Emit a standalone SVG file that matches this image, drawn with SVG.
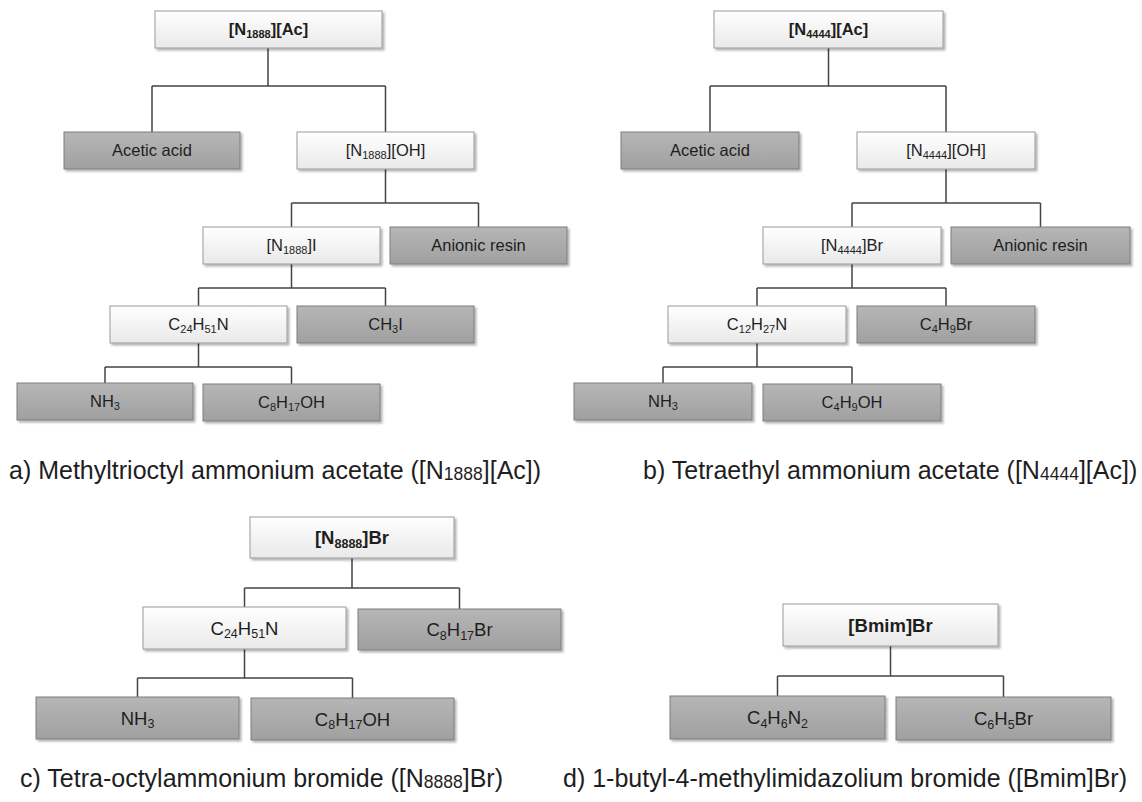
<svg xmlns="http://www.w3.org/2000/svg" width="1142" height="802" viewBox="0 0 1142 802">
<defs>
<linearGradient id="gl" x1="0" y1="0" x2="0" y2="1"><stop offset="0" stop-color="#ffffff"/><stop offset="1" stop-color="#e9e9e9"/></linearGradient>
<linearGradient id="gd" x1="0" y1="0" x2="0" y2="1"><stop offset="0" stop-color="#b6b6b6"/><stop offset="1" stop-color="#a0a0a0"/></linearGradient>
<filter id="sh" x="-10%" y="-20%" width="130%" height="160%"><feDropShadow dx="2" dy="2" stdDeviation="1.2" flood-color="#000" flood-opacity="0.3"/></filter>
</defs>
<style>
.l{fill:url(#gl);stroke:#9a9a9a;stroke-width:1;filter:url(#sh)}
.d{fill:url(#gd);stroke:#7c7c7c;stroke-width:1;filter:url(#sh)}
text{font-family:"Liberation Sans",Arial,sans-serif;fill:#1e1e1e;text-anchor:middle}
.t{font-size:16.5px}
.t2{font-size:18.5px}
.b{font-weight:bold}
.s{font-size:11px}
.s2{font-size:12.5px}
.cap{font-size:25px;text-anchor:start}
.cs{font-size:17.5px}
#conn path{fill:none;stroke:#444;stroke-width:1.5}
</style>
<rect width="1142" height="802" fill="#fff"/>
<g id="conn">
<path d="M268,48V86M152,86H385.5M152,86V132M385.5,86V132"/>
<path d="M385.5,169V203M291.5,203H478.5M291.5,203V227M478.5,203V227"/>
<path d="M291.5,264V288M198.5,288H385.5M198.5,288V306M385.5,288V306"/>
<path d="M198.5,343V367M105,367H291.5M105,367V383M291.5,367V384"/>
<path d="M828.5,48V86M710,86H946M710,86V132M946,86V132"/>
<path d="M946,169V203M852,203H1040.5M852,203V227M1040.5,203V227"/>
<path d="M852,264V288M757,288H946M757,288V306M946,288V306"/>
<path d="M757,343V367M663,367H852M663,367V383M852,367V384"/>
<path d="M352,558V588M244.5,588H459.5M244.5,588V607M459.5,588V609"/>
<path d="M244.5,649V678M137.5,678H352.5M137.5,678V697M352.5,678V698"/>
<path d="M890.5,646V676M777.5,676H1003.5M777.5,676V696M1003.5,676V697"/>
</g>
<g id="a1"><rect class="l" x="155" y="11" width="227" height="37"/><text class="t b" x="268.5" y="35">[N<tspan class="s" dy="3">1888</tspan><tspan dy="-3">][Ac]</tspan></text></g>
<g id="a2"><rect class="d" x="64" y="132" width="176" height="37"/><text class="t" x="152" y="156">Acetic acid</text></g>
<g id="a3"><rect class="l" x="297" y="132" width="177" height="37"/><text class="t" x="385.5" y="156">[N<tspan class="s" dy="3">1888</tspan><tspan dy="-3">][OH]</tspan></text></g>
<g id="a4"><rect class="l" x="203" y="227" width="177" height="37"/><text class="t" x="291.5" y="251">[N<tspan class="s" dy="3">1888</tspan><tspan dy="-3">]I</tspan></text></g>
<g id="a5"><rect class="d" x="390" y="227" width="177" height="37"/><text class="t" x="478.5" y="251">Anionic resin</text></g>
<g id="a6"><rect class="l" x="110" y="306" width="177" height="37"/><text class="t" x="198.5" y="330">C<tspan class="s" dy="3">24</tspan><tspan dy="-3">H</tspan><tspan class="s" dy="3">51</tspan><tspan dy="-3">N</tspan></text></g>
<g id="a7"><rect class="d" x="297" y="306" width="177" height="37"/><text class="t" x="385.5" y="330">CH<tspan class="s" dy="3">3</tspan><tspan dy="-3">I</tspan></text></g>
<g id="a8"><rect class="d" x="17" y="383" width="176" height="37"/><text class="t" x="105" y="407">NH<tspan class="s" dy="3">3</tspan></text></g>
<g id="a9"><rect class="d" x="203" y="384" width="177" height="37"/><text class="t" x="291.5" y="408">C<tspan class="s" dy="3">8</tspan><tspan dy="-3">H</tspan><tspan class="s" dy="3">17</tspan><tspan dy="-3">OH</tspan></text></g>

<g id="b1"><rect class="l" x="714" y="11" width="229" height="37"/><text class="t b" x="828.5" y="35">[N<tspan class="s" dy="3">4444</tspan><tspan dy="-3">][Ac]</tspan></text></g>
<g id="b2"><rect class="d" x="621" y="132" width="178" height="37"/><text class="t" x="710" y="156">Acetic acid</text></g>
<g id="b3"><rect class="l" x="857" y="132" width="178" height="37"/><text class="t" x="946" y="156">[N<tspan class="s" dy="3">4444</tspan><tspan dy="-3">][OH]</tspan></text></g>
<g id="b4"><rect class="l" x="763" y="227" width="178" height="37"/><text class="t" x="852" y="251">[N<tspan class="s" dy="3">4444</tspan><tspan dy="-3">]Br</tspan></text></g>
<g id="b5"><rect class="d" x="951" y="227" width="179" height="37"/><text class="t" x="1040.5" y="251">Anionic resin</text></g>
<g id="b6"><rect class="l" x="668" y="306" width="178" height="37"/><text class="t" x="757" y="330">C<tspan class="s" dy="3">12</tspan><tspan dy="-3">H</tspan><tspan class="s" dy="3">27</tspan><tspan dy="-3">N</tspan></text></g>
<g id="b7"><rect class="d" x="857" y="306" width="178" height="37"/><text class="t" x="946" y="330">C<tspan class="s" dy="3">4</tspan><tspan dy="-3">H</tspan><tspan class="s" dy="3">9</tspan><tspan dy="-3">Br</tspan></text></g>
<g id="b8"><rect class="d" x="574" y="383" width="178" height="37"/><text class="t" x="663" y="407">NH<tspan class="s" dy="3">3</tspan></text></g>
<g id="b9"><rect class="d" x="763" y="384" width="178" height="37"/><text class="t" x="852" y="408">C<tspan class="s" dy="3">4</tspan><tspan dy="-3">H</tspan><tspan class="s" dy="3">9</tspan><tspan dy="-3">OH</tspan></text></g>

<g id="c1"><rect class="l" x="250" y="517" width="204" height="41"/><text class="t2 b" x="352" y="544">[N<tspan class="s2" dy="3.5">8888</tspan><tspan dy="-3.5">]Br</tspan></text></g>
<g id="c2"><rect class="l" x="143" y="607" width="203" height="42"/><text class="t2" x="244.5" y="634.5">C<tspan class="s2" dy="3.5">24</tspan><tspan dy="-3.5">H</tspan><tspan class="s2" dy="3.5">51</tspan><tspan dy="-3.5">N</tspan></text></g>
<g id="c3"><rect class="d" x="358" y="609" width="203" height="41"/><text class="t2" x="459.5" y="636">C<tspan class="s2" dy="3.5">8</tspan><tspan dy="-3.5">H</tspan><tspan class="s2" dy="3.5">17</tspan><tspan dy="-3.5">Br</tspan></text></g>
<g id="c4"><rect class="d" x="36" y="697" width="203" height="42"/><text class="t2" x="137.5" y="724.5">NH<tspan class="s2" dy="3.5">3</tspan></text></g>
<g id="c5"><rect class="d" x="251" y="698" width="203" height="42"/><text class="t2" x="352.5" y="725.5">C<tspan class="s2" dy="3.5">8</tspan><tspan dy="-3.5">H</tspan><tspan class="s2" dy="3.5">17</tspan><tspan dy="-3.5">OH</tspan></text></g>

<g id="d1"><rect class="l" x="783" y="604" width="215" height="42"/><text class="t2 b" x="890.5" y="631.5">[Bmim]Br</text></g>
<g id="d2"><rect class="d" x="670" y="696" width="215" height="43"/><text class="t2" x="777.5" y="724">C<tspan class="s2" dy="3.5">4</tspan><tspan dy="-3.5">H</tspan><tspan class="s2" dy="3.5">6</tspan><tspan dy="-3.5">N</tspan><tspan class="s2" dy="3.5">2</tspan></text></g>
<g id="d3"><rect class="d" x="896" y="697" width="215" height="43"/><text class="t2" x="1003.5" y="725">C<tspan class="s2" dy="3.5">6</tspan><tspan dy="-3.5">H</tspan><tspan class="s2" dy="3.5">5</tspan><tspan dy="-3.5">Br</tspan></text></g>

<g id="captions">
<text class="cap" x="9" y="479">a) Methyltrioctyl ammonium acetate ([N<tspan class="cs" dy="1">1888</tspan><tspan dy="-1">][Ac])</tspan></text>
<text class="cap" x="643" y="479">b) Tetraethyl ammonium acetate ([N<tspan class="cs" dy="1">4444</tspan><tspan dy="-1">][Ac])</tspan></text>
<text class="cap" x="20" y="787">c) Tetra-octylammonium bromide ([N<tspan class="cs" dy="1">8888</tspan><tspan dy="-1">]Br)</tspan></text>
<text class="cap" x="563" y="787">d) 1-butyl-4-methylimidazolium bromide ([Bmim]Br)</text>
</g>
</svg>
